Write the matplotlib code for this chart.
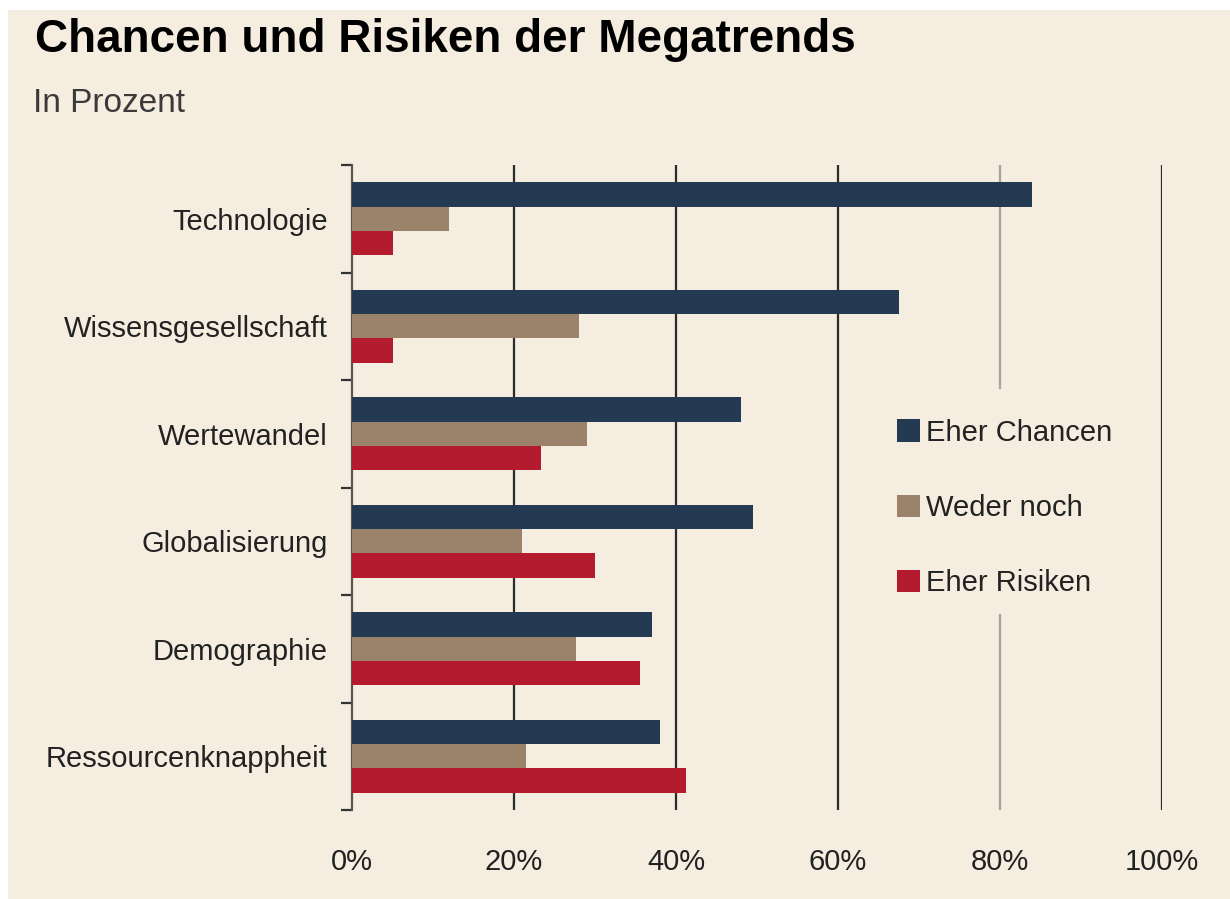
import matplotlib

matplotlib.use("Agg")
import matplotlib.pyplot as plt
import numpy as np
from matplotlib.patches import Rectangle

# values (percent)
categories = [
    "Technologie",
    "Wissensgesellschaft",
    "Wertewandel",
    "Globalisierung",
    "Demographie",
    "Ressourcenknappheit",
]
eher_chancen = [84, 67.5, 48, 49.5, 37, 38]
weder_noch = [12, 28, 29, 21, 27.7, 21.5]
eher_risiken = [5, 5, 23.3, 30, 35.6, 41.2]

series_labels = ["Eher Chancen", "Weder noch", "Eher Risiken"]
x_ticks = [0, 20, 40, 60, 80, 100]
x_tick_labels = ["0%", "20%", "40%", "60%", "80%", "100%"]

BG = "#F5EDE0"
COLORS = ["#243A53", "#9B826A", "#B51B2E"]
FONT = ["Liberation Sans", "DejaVu Sans"]

plt.rcParams["font.family"] = FONT

fig = plt.figure(figsize=(12.3, 8.99), dpi=100)
fig.patch.set_facecolor("white")
fig.patches.append(
    Rectangle((8 / 1230, 0), 1 - 8 / 1230, 1 - 10 / 899,
              transform=fig.transFigure, facecolor=BG, edgecolor="none", zorder=-10)
)

ax = fig.add_axes([352 / 1230, 1 - 810 / 899, 810 / 1230, 645 / 899])
ax.set_facecolor(BG)

y = np.arange(len(categories))
h = 0.225
for offset, vals, color, label in zip(
    (-h, 0, h), (eher_chancen, weder_noch, eher_risiken), COLORS, series_labels
):
    ax.barh(y + offset, vals, height=h, color=color, label=label, zorder=3)

ax.set_xlim(0, 100)
ax.set_ylim(len(categories) - 0.5, -0.5)

# vertical grid lines; the 80% line is lighter and broken by the legend
for xv in (20, 40, 60, 100):
    ax.axvline(xv, color="#2b2b2b", lw=1.6, zorder=1)
ax.axvline(80, ymin=0.654, ymax=1, color="#a8a39a", lw=1.6, zorder=1)
ax.axvline(80, ymin=0, ymax=0.302, color="#a8a39a", lw=1.6, zorder=1)

for side in ("top", "right", "bottom"):
    ax.spines[side].set_visible(False)
ax.spines["left"].set_color("#555555")
ax.spines["left"].set_linewidth(1.6)

ax.set_yticks(y)
ax.set_yticklabels(categories, fontsize=21, color="#222222")
ax.set_yticks(np.arange(-0.5, len(categories)), minor=True)
ax.tick_params(axis="y", which="major", length=0, pad=17.5)
ax.tick_params(axis="y", which="minor", length=8, width=1.6, color="#333333")

ax.set_xticks(x_ticks)
ax.set_xticklabels(x_tick_labels, fontsize=21, color="#222222")
ax.tick_params(axis="x", length=0, pad=27.5)

leg = ax.legend(
    loc="upper left",
    bbox_to_anchor=(882 / 1230, 1 - 404 / 899),
    bbox_transform=fig.transFigure,
    frameon=False,
    fontsize=21,
    handlelength=0.8,
    handleheight=0.8,
    handletextpad=0.22,
    labelspacing=1.62,
    borderpad=0,
)
for t in leg.get_texts():
    t.set_color("#222222")

fig.text(35 / 1230, 1 - 40 / 899, "Chancen und Risiken der Megatrends",
         fontsize=33, fontweight="bold", va="center", color="black")
fig.text(33 / 1230, 1 - 104 / 899, "In Prozent",
         fontsize=24, va="center", color="#3a3a3a")

fig.savefig("out.png", dpi=100, facecolor=fig.get_facecolor())
